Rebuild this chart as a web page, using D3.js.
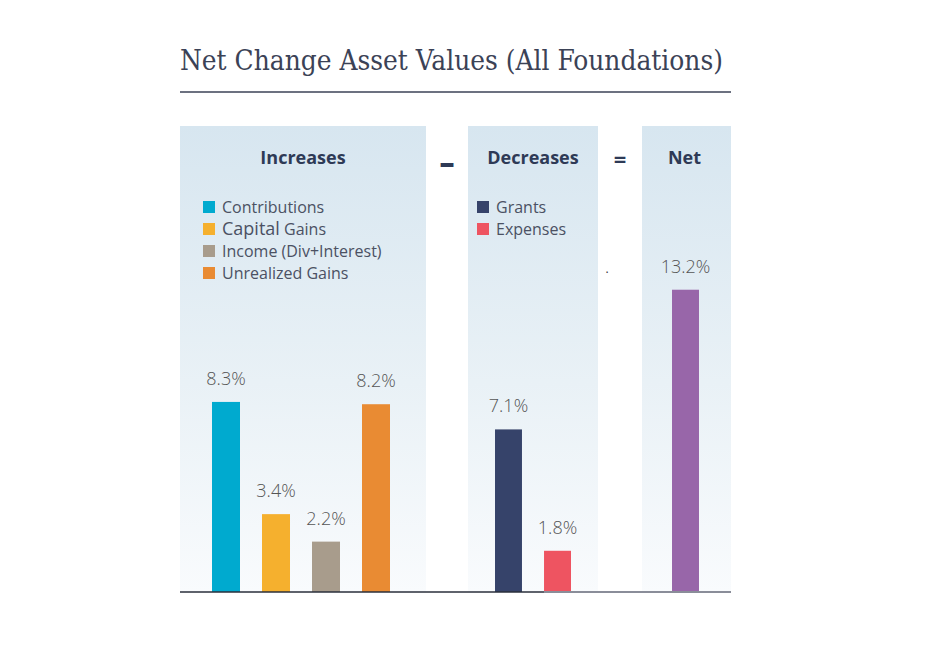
<!DOCTYPE html>
<html>
<head>
<meta charset="utf-8">
<script src="https://cdn.jsdelivr.net/npm/d3@7"></script>
<style>
  html, body { margin: 0; padding: 0; background: #ffffff; }
  svg { display: block; }
</style>
</head>
<body>
<script>
// ---- data ----
const title = "Net Change Asset Values (All Foundations)";
const groupTitles = ["Increases", "Decreases", "Net"];
const operators = ["\u2013", "="];
const incCats = ["Contributions", "Capital Gains", "Income (Div+Interest)", "Unrealized Gains"];
const incVals = [8.3, 3.4, 2.2, 8.2];
const incColors = ["#00aacf", "#f5b02e", "#a89c8c", "#e98b33"];
const decCats = ["Grants", "Expenses"];
const decVals = [7.1, 1.8];
const decColors = ["#36436a", "#ee5461"];
const netCats = ["Net"];
const netVals = [13.2];
const netColors = ["#9866a9"];

const W = 927, H = 645;
const svg = d3.select("body").append("svg").attr("width", W).attr("height", H);
const defs = svg.append("defs");
const grad = defs.append("linearGradient").attr("id", "pg").attr("x1", 0).attr("y1", 0).attr("x2", 0).attr("y2", 1);
grad.append("stop").attr("offset", "0%").attr("stop-color", "#d7e6f0");
grad.append("stop").attr("offset", "55%").attr("stop-color", "#e9f1f6");
grad.append("stop").attr("offset", "100%").attr("stop-color", "#f9fbfd");

const baseY = 592;
const y = d3.scaleLinear().domain([0, 14]).range([baseY, baseY - 14 * 22.9]);

const sans = "'Open Sans', Lato, sans-serif";

// title
svg.append("text")
  .attr("x", 180).attr("y", 70)
  .attr("font-family", "'DejaVu Serif Condensed', 'DejaVu Serif', serif")
  .attr("font-stretch", "condensed")
  .attr("font-size", 28)
  .attr("font-weight", 300)
  .attr("fill", "#3b4256")
  .attr("textLength", 543)
  .attr("lengthAdjust", "spacingAndGlyphs")
  .text(title);
svg.append("line").attr("x1", 180).attr("x2", 731).attr("y1", 92).attr("y2", 92)
  .attr("stroke", "#3b4256").attr("stroke-width", 1.3);

// panels
const panels = [
  { x0: 180, x1: 426, cats: incCats, vals: incVals, colors: incColors, pi: 0.44, po: 0.5, r: [187, 415] },
  { x0: 468, x1: 598, cats: decCats, vals: decVals, colors: decColors, pi: 0.45, po: 0.5, r: [470.5, 595.5] },
  { x0: 642, x1: 731, cats: netCats, vals: netVals, colors: netColors, pi: 0.45, po: 0.612, r: [642, 729] }
];

panels.forEach((p, i) => {
  svg.append("rect").attr("x", p.x0).attr("y", 126).attr("width", p.x1 - p.x0).attr("height", baseY - 126)
    .attr("fill", "url(#pg)");
  svg.append("text").attr("x", (p.x0 + p.x1) / 2 + (i === 2 ? -2 : 0)).attr("y", 164)
    .attr("text-anchor", "middle")
    .attr("font-family", sans)
    .attr("font-weight", 700).attr("font-size", 18).attr("fill", "#2e3a56")
    .text(groupTitles[i]);
});

// operators
svg.append("text").attr("x", 447).attr("y", 173).attr("text-anchor", "middle")
  .attr("font-family", sans).attr("font-weight", 800).attr("font-size", 30).attr("fill", "#2e3a56")
  .text(operators[0]);
svg.append("text").attr("x", 620).attr("y", 167).attr("text-anchor", "middle")
  .attr("font-family", sans).attr("font-weight", 700).attr("font-size", 22).attr("fill", "#2e3a56")
  .text(operators[1]);

// legends
function legend(x, cats, colors) {
  const g = svg.append("g");
  cats.forEach((c, j) => {
    const cy = 207 + j * 22;
    g.append("rect").attr("x", x).attr("y", cy - 6).attr("width", 12).attr("height", 12).attr("fill", colors[j]);
    const t = g.append("text").attr("x", x + 19).attr("y", cy + 5.5)
      .attr("font-family", sans).attr("font-size", 16).attr("fill", "#4b5163");
    if (c === "Capital Gains") {
      t.append("tspan").attr("font-size", 18).text("Capital");
      t.append("tspan").text(" Gains");
    } else {
      t.text(c);
    }
  });
}
legend(203, incCats, incColors);
legend(477, decCats, decColors);

// bars
panels.forEach(p => {
  const x = d3.scaleBand().domain(p.cats).range(p.r).paddingInner(p.pi).paddingOuter(p.po);
  const data = p.cats.map((c, k) => ({ c, v: p.vals[k], col: p.colors[k] }));
  svg.append("g").selectAll("rect").data(data).join("rect")
    .attr("x", d => x(d.c)).attr("width", x.bandwidth())
    .attr("y", d => y(d.v)).attr("height", d => y(0) - y(d.v))
    .attr("fill", d => d.col);
  svg.append("g").selectAll("text").data(data).join("text")
    .attr("x", d => x(d.c) + x.bandwidth() / 2)
    .attr("y", d => y(d.v) - 17)
    .attr("text-anchor", "middle")
    .attr("font-family", sans).attr("font-size", 18).attr("font-weight", 300)
    .attr("fill", "#555555")
    .text(d => d.v.toFixed(1) + "%");
});

// stray dot
svg.append("text").attr("x", 607).attr("y", 273).attr("text-anchor", "middle")
  .attr("font-family", sans).attr("font-size", 12).attr("fill", "#333").text(".");

// baseline
svg.append("line").attr("x1", 180).attr("x2", 544).attr("y1", baseY).attr("y2", baseY)
  .attr("stroke", "#2a2f3b").attr("stroke-width", 1.6);
svg.append("line").attr("x1", 544).attr("x2", 731).attr("y1", baseY).attr("y2", baseY)
  .attr("stroke", "#8a8d99").attr("stroke-width", 1.8);
</script>
</body>
</html>
